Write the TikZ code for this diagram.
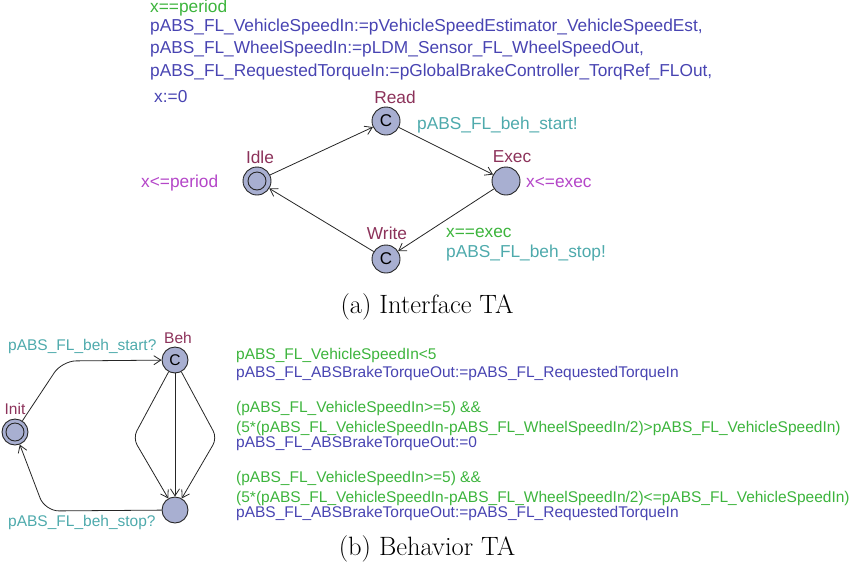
\documentclass[tikz,border=0pt]{standalone}
\usepackage{fontspec}
\newfontfamily\lab{Liberation Sans}
\usetikzlibrary{arrows.meta}
\definecolor{guardc}{RGB}{60,180,60}
\definecolor{assignc}{RGB}{72,68,178}
\definecolor{syncc}{RGB}{78,170,172}
\definecolor{invc}{RGB}{180,70,200}
\definecolor{namec}{RGB}{140,50,90}
\definecolor{locfill}{RGB}{168,175,209}
\begin{document}
\begin{tikzpicture}[x=1pt,y=-1pt,
  loc/.style={circle,draw=black!85,fill=locfill,minimum size=28pt,inner sep=0pt,line width=0.9pt,font=\lab\fontsize{17}{17}\selectfont},
  locb/.style={loc,minimum size=26pt,font=\lab\fontsize{15.5}{15.5}\selectfont},
  initloc/.style={path picture={\draw[black!85,line width=0.9pt] (path picture bounding box.center) circle (9pt);}},
  edge/.style={draw=black!85,line width=0.8pt,-{Straight Barb[length=7pt,width=9pt]}},
  tA/.style={font=\lab\fontsize{17.3}{20}\selectfont,inner sep=0pt,anchor=west},
  tB/.style={font=\lab\fontsize{15.5}{18}\selectfont,inner sep=0pt,anchor=west},
  nmA/.style={font=\lab\fontsize{17.3}{20}\selectfont,inner sep=0pt,text=namec},
  nmB/.style={font=\lab\fontsize{15.5}{18}\selectfont,inner sep=0pt,text=namec},
  captext/.style={font=\fontsize{26.5}{30}\selectfont,inner sep=0pt}]
\useasboundingbox (0,0) rectangle (865,566);

% ---------- (a) Interface TA ----------
\node[tA,text=guardc] (g1) at (150,8) {x==period};
\node[tA,text=assignc] (a1) at (150,27) {pABS\_FL\_VehicleSpeedIn:=pVehicleSpeedEstimator\_VehicleSpeedEst,};
\node[tA,text=assignc] (a2) at (150,49) {pABS\_FL\_WheelSpeedIn:=pLDM\_Sensor\_FL\_WheelSpeedOut,};
\node[tA,text=assignc] (a3) at (150,72) {pABS\_FL\_RequestedTorqueIn:=pGlobalBrakeController\_TorqRef\_FLOut,};
\node[tA,text=assignc] (a4) at (154,97) {x:=0};

\node[loc,initloc] (Idle) at (257,181) {};
\node[loc] (Read) at (386,121) {C};
\node[loc] (Exec) at (506,181) {};
\node[loc] (Write) at (386,259) {C};

\node[nmA] (nIdle) at (260,157) {Idle};
\node[nmA] (nRead) at (395,97) {Read};
\node[nmA] (nExec) at (512,157) {Exec};
\node[nmA] (nWrite) at (387,233) {Write};

\node[tA,text=invc] (iIdle) at (141,183) {x<=period};
\node[tA,text=invc] (iExec) at (526,183) {x<=exec};
\node[tA,text=syncc] (sStart) at (417,125) {pABS\_FL\_beh\_start!};
\node[tA,text=guardc] (gExec) at (446,233) {x==exec};
\node[tA,text=syncc] (sStop) at (446,253) {pABS\_FL\_beh\_stop!};

\draw[edge] (Idle) -- (Read);
\draw[edge] (Read) -- (Exec);
\draw[edge] (Exec) -- (Write);
\draw[edge] (Write) -- (Idle);

\node[captext] (capA) at (427,307) {(a) Interface TA};

% ---------- (b) Behavior TA ----------
\node[locb,initloc] (Init) at (15,432) {};
\node[locb] (Beh) at (175,360) {C};
\node[locb] (Fin) at (175,510) {};

\node[nmB] (nInit) at (15,409) {Init};
\node[nmB] (nBeh) at (178,338) {Beh};

\node[tB,text=syncc] (sBs) at (8,346) {pABS\_FL\_beh\_start?};
\node[tB,text=syncc] (sBe) at (8,522) {pABS\_FL\_beh\_stop?};

\coordinate (c1) at (62,361);
\coordinate (c2) at (45,511);
\coordinate (c3) at (133,438);
\coordinate (c4) at (217,438);
\draw[edge,rounded corners=14pt] (Init) -- (c1) -- (Beh);
\draw[edge,rounded corners=14pt] (Fin) -- (c2) -- (Init);
\draw[edge,rounded corners=8pt] (Beh) -- (c3) -- (Fin);
\draw[edge,rounded corners=8pt] (Beh) -- (c4) -- (Fin);
\draw[edge] (Beh) -- (Fin);

\node[tB,text=guardc] (b1) at (236,355) {pABS\_FL\_VehicleSpeedIn<5};
\node[tB,text=assignc] (b2) at (236,373) {pABS\_FL\_ABSBrakeTorqueOut:=pABS\_FL\_RequestedTorqueIn};
\node[tB,text=guardc] (b3) at (236,408) {(pABS\_FL\_VehicleSpeedIn>=5) \&\&};
\node[tB,text=guardc] (b4) at (236,428) {(5*(pABS\_FL\_VehicleSpeedIn-pABS\_FL\_WheelSpeedIn/2)>pABS\_FL\_VehicleSpeedIn)};
\node[tB,text=assignc] (b5) at (236,443) {pABS\_FL\_ABSBrakeTorqueOut:=0};
\node[tB,text=guardc] (b6) at (236,478) {(pABS\_FL\_VehicleSpeedIn>=5) \&\&};
\node[tB,text=guardc] (b7) at (236,498) {(5*(pABS\_FL\_VehicleSpeedIn-pABS\_FL\_WheelSpeedIn/2)<=pABS\_FL\_VehicleSpeedIn)};
\node[tB,text=assignc] (b8) at (236,513) {pABS\_FL\_ABSBrakeTorqueOut:=pABS\_FL\_RequestedTorqueIn};

\node[captext] (capB) at (427,549) {(b) Behavior TA};
\end{tikzpicture}
\end{document}
